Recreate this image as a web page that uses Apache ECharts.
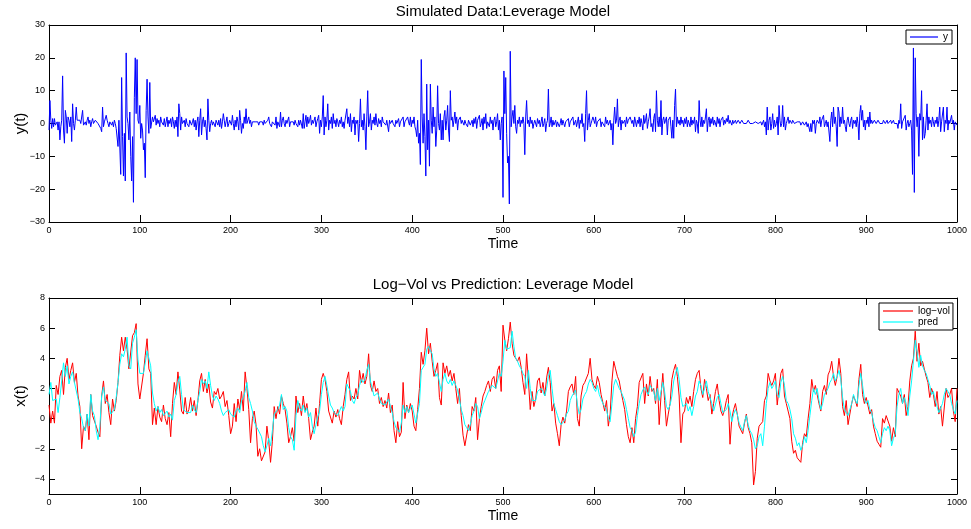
<!DOCTYPE html>
<html>
<head>
<meta charset="utf-8">
<title>Leverage Model</title>
<script src="https://cdn.jsdelivr.net/npm/echarts/dist/echarts.min.js"></script>
<style>
  html, body { margin: 0; padding: 0; background: #fff; }
  #chart { width: 971px; height: 529px; }
</style>
</head>
<body>
<div id="chart"></div>
<script>
// simulated returns y(t), t = 0..1000 (one value per time step)
const yObs = [
  -2, 7, 1, -1.5, 1.5, -1, 1.5, -0.5, -1, 0.5, -2, 0.5, -5, -1, 1, 14.5, -2, -6, 4, 2,
  -3, 2, 1, -1, 2, -5.5, 6, 0, -2, 1, 5, 1, 1.5, 0.5, 1, 0, 0.5, 4, -0.5, 0,
  0.5, -0.5, 1, 2, 0, 1, -1, 0.5, 1.5, 0, -0.5, 1, 0.5, 1.5, 0, -0.5, 0.5, -1.5, -2.5, 5,
  -1, 0.5, 1, 2.5, 1, 0, -1, 0.5, 1, -0.5, 0.5, -1, 1, 0, -1.5, -2, -7, 1, 1, -15.5,
  14, -4, -16, -3, -17.5, 21.5, 2, 0, -5, 3.5, -10, -17.5, -4, -24, 8, 20, 3, 19.5, 1, 0,
  5.5, -4.5, 0, -2, -8, -6, -16.5, 4, 13.5, 2, -3, 12.5, -1.5, -1, 2, 0.5, 1, 2.5, -0.5, 1.5,
  0, 1, -1, 2, 0.5, 1, -0.5, 1.5, -1, 0.5, 2, -1, 1, 0, 1.5, -1, 2, 0.5, -1.5, 1,
  -1, 2, -4, 6, 3, -2, 2, 0, -0.5, 1, -1, 1.5, 0, 0.5, -1, 1, 1, -0.5, 0.5, 1.5,
  -1, 1, -2, 0.5, 2, -4, 1, 4.5, -3.5, 0.5, 2, -1, 1, -1.5, -5, 7.5, 1, -2.5, 0, 1,
  -0.5, 0.5, 0, -1, 1, 0.5, -0.5, 1, -1, 1.5, -1.5, 0.5, 3, 1, -1, 0.5, 2, -1, 0, 1,
  1.5, -0.5, 2.5, 0, -2, 1, -1, 2, 0.5, -2, 4, 1, -3, 0, -1.5, 2, 0, 4.5, 0, 1,
  2, 0, 1, -1, 0.5, 0, 1, 0.5, 1, 0, 0.5, -0.5, 0.5, 1, 0, 0.5, -0.5, 1, 0, 0.5,
  -0.5, 1, 2, 0, 0.5, -1, 0.5, 0, 1, -0.5, 2, -1.5, 0.5, 1, -1, 3.5, -1, 1, 2, 0,
  -1, 1, 0, 0.5, 2, -1, 0.5, 1, 0, 0.5, -0.5, 1, 0, 0.5, -1, 1, -0.5, 1, 0.5, -1.5,
  3, -1.5, 0.5, 2.5, -1, 2, 0, 1, 2.5, -0.5, 1, 0, -0.5, 2, -1, 0.5, 1.5, 2.5, -3, 1,
  -1, 2, 8.5, -3.5, 2, -1, 1, 6, -2, 1, 0, 2, -1.5, 3, 0, 1, -1, 1.5, 0.5, -1,
  1, 0, 2, -1, 0.5, -1.5, 1, 0.5, 4.5, 0, 2, -1, 3, -2.5, 1, 0, 2, -3.5, 1, 0,
  1, -5.5, 0, 7.5, -1, 1, -2, 3, -1, -8, 2, 10, -1, 0.5, 3, -2, 1, 0, 2, -0.5,
  3, 0, -1, 1.5, 0, 1, -1, 2, 0.5, 0, 1, -0.5, 1, 0.5, -2.5, 1, 0, 0.5, 1, 0,
  0.5, -1, 1, 0, -0.5, 1.5, -1, 0.5, 0, 1, 2, -1, 0.5, 1, 0, 2, 0.5, -0.5, 2, -1,
  1, 0, 2, -1, -2, -4, 1, -6, -3, -12.5, 19.5, 2, -6, 3, -4, -16, 12, -8, 1, -13,
  12, 1, -3, 5, -1, 2, -7, -2, 11.5, 0, -2, 3, -5, 1, -5, 2, 4, -2, 1, 5.5,
  -2, -5.5, 10, 1, 2, -1, 1, 3.5, 0, 2, -2, 1, 0.5, 2, 0, 1, 0.5, -0.5, 1, 0,
  0.5, -1, 1, 0.5, -0.5, 0, 1, -1, 1.5, 0, 2, -1.5, 1, 0.5, 2.5, -1, 0, 1.5, -2, 2,
  0, 3, -1.5, 0.5, 1, -1, 2, 0, 1, -2, 1, 2, -1, 0.5, 3, -2, 1, -5, 0, 2,
  -22.5, 16, 3, 14, -3, -12, -10, -24.5, 22, -1, 2, 4, 0, 5.5, -1, -3, 1, 0, 2, -1,
  1, 0, 2, 0, -9.5, 2, 7, 0, 1, -1, 2, 0, 1, -1.5, 0, 1, 0.5, -1, 1.5, 0,
  1, -1, 0.5, 2, -1, 0, 1.5, -2.5, 0, 1, 10.5, -1, 0, 2, -1, 1, -0.5, 0, 1, -1,
  0.5, 1, -1, 0, 1.5, -0.5, 1, 0, -1, 0.5, 1, 0, 1.5, -1, 0.5, 0, 1, 2, -0.5, 0,
  1, -1, 0.5, 2, -1.5, 1, 0, 3, -1, 0, -5.5, 3, 10, -2, 1, 3, -1, 0, 1, 2,
  1, 0, 2, -1, 0.5, 1, 0, 1.5, -1, 0.5, 1, 0, -1, 2, 0, 1, -0.5, 0, 1, -2,
  0, -6.5, 1, 5, 0, 1, 7.5, -1, 1, 2, -2, 1, 0, 0.5, 1, -1, 2, 0, 1, 0.5,
  2, 1, 0, 1, -1, 2, 0.5, -1, 1, 0, 2, -1, 1.5, 0, -2, 2.5, 0, 1, 3, -1.5,
  0.5, 2, 4.5, -1, 0, -2.5, 1.5, 3, -2.5, 10, 1, -1, 2, -1, 7, -3.5, 1, 2, 0, 1,
  2, -3.5, 1, 0.5, 2, -1, -4.5, 1, -4.5, 5.5, 10.5, -1, 2, 0, 1, -0.5, 2, 0, 1, -1,
  1.5, 0, 2, -1, 1, 0.5, -1, 2, -0.5, 1, 0, 2, -2.5, 1, 0, -3, 7, 1, -1, 2,
  -1, 1, 0, 2, 4.5, -2.5, 1, 2, -1, 1.5, 0, 2, -0.5, 1, 0.5, -1, 2, 0, 1.5, -1,
  1, 0.5, 2, -0.5, 1, 0, 1.5, 0.5, 2.5, 0, 1, 0.5, -0.5, 1, 0, 0.5, 1, 0, 0.5, 1,
  0.5, 0, 0.5, 1, 0.5, 0, 0.5, 0.5, 0, 0.5, 1, 0.5, 0, 0.5, 0.5, 0, 0.5, 0, 0.5, 0,
  0.5, 0, 0.5, 0, 0.5, -0.5, 0, 1, -1, 0.5, -3.5, 5, -2, 1, 2, -2, 0, 3, -1.5, 1,
  -1, 0, 2, -3.5, 5.5, 1, -1, 0, 5.5, -1, 2, -2, 0, 1, 2, 0, 1, 0.5, 0, 1,
  0.5, 0, 0.5, 0, 0.5, 0.5, 0, 0.5, -0.5, 0, 0.5, 0, -0.5, 0, 0.5, -1, 0, 0.5, -2.5, 0,
  -2.5, 1, 0, 1, -3, 0, 1, 0.5, 0, 2, -1, 1, 0.5, 2.5, -1, 0, 1, -1, 0.5, 1,
  -5.5, 1, 3.5, -1, 5, 0, 2, -1, -7, 5, 3.5, -1, 2, 0, 5, 0, 1, -1, -2.5, 1,
  2, 0, -1, 1, 2, -1.5, 1, 0, 1, -1, 2, 0, -5, 3, 5.5, 1, 4, -1, 1, -2,
  1, 0, 2, -1, 3.5, 0, 1, 0, 0.5, 1, 0.5, 0, 0.5, 1, 0.5, 0, 0.5, 0.5, 0, 1,
  0.5, 0, 0.5, 1, 0, 0.5, 0.5, 1, 0, 0.5, 1, 0, 0.5, -0.5, 0, -1.5, 1, 0, 6, -1.5,
  0.5, 1, 0, 2.5, -2, 0, 1, -1, 0, 1, -2, -15.5, 23, -21, 20, 3, -1, 2, -10, 3,
  1, 10, -5, 2, -4.5, -3, 1, 6, -2, 2, 0, 1, -1, 2, 0.5, -1, 1, 0, 2, -1,
  1, 5, -2.5, 0.5, 1, 5, -2.5, 1, 0, 5, -2, 1, 0, 0.5, 2.5, 0, 1, -2, 0.5, 1,
  -0.5
];

// log-volatility and its prediction, sampled every 2 time steps (t = 0, 2, ..., 1000)
const logVol = [
  0.9, -0.3, 0.5, -0.3, 2.2, 1.6, 2.8, 3.2, 1.6, 3.4,
  4.0, 2.6, 3.2, 3.7, 2.4, 3.0, 1.5, 0.8, -2.0, -0.5,
  -0.8, 0.3, -1.4, 1.6, 0.2, 0.3, -0.5, -0.9, -1.2, 1.5,
  2.5, 1.0, 1.6, 0.4, -0.4, 1.3, 0.5, 1.2, 2.4, 4.2,
  5.4, 4.5, 5.4, 4.6, 3.3, 3.2, 5.5, 5.7, 6.3, 2.3,
  1.3, 1.2, 3.0, 4.2, 5.3, 3.3, 3.0, -0.4, 0.7, -0.4,
  0.8, 0.1, -0.2, 0.9, 0, -0.4, 0.4, -1.2, 1.0, 2.4,
  1.6, 3.1, 1.9, 0.5, 0.3, 1.4, 0.3, 0.6, 1.4, 0.5,
  1.2, 0.2, 1.2, 2.5, 3.0, 1.8, 2.6, 1.7, 2.3, 1.1,
  0.7, 1.8, 1.6, 2.0, 1.3, 1.5, 1.8, 0.8, 1.2, 0.2,
  -1.0, -0.5, 1.0, -0.2, 1.3, 0.6, 1.8, 0.5, 3.1, 2.0,
  0.6, -1.6, 0, 0.5, -0.4, -2.5, -2.0, -2.8, -2.9, -2.2,
  -0.5, -1.5, -2.9, -1.5, 0.8, 0, 0.8, 0.3, 1.5, 1.0,
  0.6, -0.3, -1.6, -1.2, -0.6, -1.5, 1.5, 0.4, 1.0, 0.2,
  1.5, 0.5, 1.0, 0, -1.4, -0.9, -0.5, 0.7, -0.5, 1.0,
  2.6, 3.0, 2.6, 1.8, 0.5, 0.5, -0.3, 0.5, 0.1, 0.6,
  0, -0.4, 0.8, 1.6, 2.6, 3.1, 1.2, 1.5, 1.3, 2.0,
  1.3, 3.2, 2.4, 3.0, 2.3, 2.8, 4.3, 2.2, 1.8, 2.5,
  1.8, 2.0, 1.0, 1.4, 0.8, 1.2, 0.7, 1.7, 0.4, 0.9,
  -0.8, -1.6, -0.2, -1.2, -0.9, 2.4, 0, 0.9, 0.4, 1.0,
  0.5, -0.5, -0.8, 0.6, 2.0, 4.4, 3.6, 4.5, 6.0, 4.3,
  5.0, 3.8, 2.8, 3.2, 3.7, 1.4, 0.9, 3.7, 3.0, 3.5,
  2.8, 3.2, 2.5, 3.0, 2.0, 1.0, 2.0, 0.2, -1.1, -1.8,
  -1.7, -0.4, -0.8, 0.8, 0.5, 1.4, -1.4, 0, 0.8, 1.5,
  1.8, 2.2, 2.5, 1.8, 2.6, 2.8, 2.0, 3.2, 3.5, 1.8,
  6.2, 5.2, 4.5, 5.3, 6.4, 5.0, 4.2, 4.0, 3.8, 4.1,
  3.4, 2.4, 1.6, 4.3, 2.5, 0.6, 1.8, 0.8, 1.3, 2.5,
  2.7, 1.7, 2.4, 1.5, 2.7, 3.4, 2.4, 0.5, 1.0, -0.3,
  -1.0, -1.8, -0.4, 0.1, -0.3, 0.5, 1.8, 2.1, 2.3, 1.6,
  2.8, 0, -0.5, 1.5, 2.2, 2.4, 2.5, 3.0, 4.0, 2.6,
  2.2, 2.0, 2.8, 2.4, 1.6, 1.5, 0.5, 1.2, -0.5, 0.3,
  2.5, 3.8, 3.3, 2.8, 2.5, 1.8, 1.2, 0.6, -0.4, -1.2,
  -1.6, -0.6, -1.6, 0, 0.8, 2.4, 2.5, 3.0, 1.0, 2.3,
  1.5, 2.8, 1.8, 2.0, 1.0, 2.6, -0.4, 1.5, 3.0, 1.2,
  -0.5, 0.3, 1.0, 2.6, 3.2, 3.6, 2.8, 1.5, -1.6, 0.3,
  0.5, 1.4, 1.0, 1.5, 0.8, 1.8, 2.6, 3.0, 3.2, 2.0,
  1.4, 2.6, 2.0, 1.2, 1.6, 0.3, 1.0, 1.8, 2.3, 1.2,
  0.5, 0.2, 0.6, 1.2, 1.6, -1.7, 0, 0.6, 1.0, 0.3,
  -0.5, -0.6, -1.0, -0.3, 0.3, -0.6, -1.0, -1.6, -4.4, -3.5,
  -1.3, -0.5, -0.4, -0.2, 1.2, 1.5, 3.0, 2.5, 2.2, 2.5,
  3.0, 0.9, 2.0, 3.0, 3.3, 1.5, 1.0, 0.5, 0.0, -1.5,
  -2.3, -2.1, -2.6, -2.5, -2.9, -1.6, -1.0, -1.2, 0.0, 1.0,
  2.6, 1.8, 2.2, 1.6, 1.0, 0.5, 1.8, 2.2, 1.6, 2.9,
  3.2, 3.8, 2.8, 2.2, 2.8, 4.0, 3.0, 0.8, 0.2, 1.2,
  -0.4, 0.3, 1.0, 1.5, 1.2, 0.8, 2.6, 3.6, 1.6, 1.0,
  1.4, 1.5, 0.3, 0.6, -0.5, -1.0, -1.5, -1.7, -1.9, 0.0,
  -0.3, 0.2, 0.1, -0.5, -1.5, -0.6, -1.2, 2.0, 2.1, 1.5,
  1.0, 1.6, 0.2, 0.8, 2.5, 3.5, 4.0, 5.8, 3.8, 5.0,
  3.5, 3.8, 3.3, 2.8, 2.4, 1.4, 2.0, 1.6, 0.8, 1.8,
  0.3, 0.8, -0.5, -0.6, 2.0, 1.4, 1.6, 2.0, 0.5, -0.2,
  2.0
];

const pred = [
  1.6, 2.4, 1.2, 1.1, 1.3, 0.4, 1.4, 2.5, 3.7, 2.8,
  3.5, 2.3, 2.8, 3.1, 2.4, 2.5, 1.3, 0.4, 0, -0.6,
  -0.8, 0.3, -0.5, 1.6, 0.5, 0.2, -0.8, -1.4, -0.5, 1.5,
  2.1, 1.2, 1.3, 1.0, 0.3, 0.2, 0.6, 1.4, 2.4, 3.6,
  4.3, 4.1, 4.6, 5.4, 3.5, 3.3, 5.0, 5.4, 5.9, 3.9,
  3.0, 3.1, 3.0, 3.7, 4.5, 4.6, 3.5, 1.7, 1.0, 0.5,
  0.8, 0.4, 0.6, 0.2, 0.3, 0.5, 0.1, 0.3, -0.1, 1.2,
  1.6, 2.4, 2.8, 1.6, 0.6, 0.5, 0.4, 0.5, 0.4, 0.9,
  0.6, 0.4, 1.2, 1.8, 2.6, 2.3, 2.5, 2.0, 3.1, 2.2,
  1.5, 1.2, 1.5, 1.3, 1.0, 0.5, 0.2, 0.4, 0.5, 0.6,
  0.3, 0.4, 0.1, 0.5, 0.7, 0.4, 1.2, 1.4, 1.8, 2.4,
  1.4, 1.0, 0.5, -0.2, -0.5, -0.7, -0.8, -1.2, -1.8, -2.2,
  -1.8, -1.3, -1.8, -0.8, 0.3, 0.2, 0.6, 0.9, 1.6, 0.6,
  0.8, 0.5, -0.6, -1.2, -1.4, -2.1, 0.2, 1.2, 0.7, 0.5,
  0.9, 0.4, 0.7, 0.1, 0.4, -0.5, -1.0, -0.4, 0.1, 0.5,
  1.6, 2.4, 2.8, 2.2, 1.5, 0.9, 0.7, 0.4, 0.3, 0.2,
  0.5, 0.8, 0.5, 0.8, 2.3, 2.2, 1.8, 1.2, 1.0, 1.4,
  1.6, 2.2, 2.6, 2.4, 2.6, 3.2, 3.6, 2.5, 2.0, 1.5,
  1.6, 1.7, 1.3, 1.0, 1.1, 0.9, 0.8, 1.3, 0.8, 0.4,
  -0.2, -0.6, -0.6, -0.9, -0.3, 0.9, 0.4, 0.8, 0.4, 0.7,
  0.9, 0.3, -0.3, -0.2, 1.0, 3.2, 3.4, 3.6, 4.6, 4.8,
  4.5, 4.3, 3.3, 2.8, 3.0, 2.4, 1.8, 2.6, 3.0, 2.5,
  2.3, 2.6, 2.2, 2.5, 2.2, 1.9, 1.3, 0.6, 0.2, -0.4,
  -0.6, -0.8, -0.4, 0.2, 0.5, 1.0, 0.8, 0, 0.4, 0.9,
  1.2, 1.5, 1.8, 1.9, 2.2, 2.3, 2.0, 2.5, 3.0, 2.8,
  3.8, 5.2, 4.6, 4.5, 4.7, 5.8, 4.8, 4.0, 3.8, 3.5,
  3.3, 3.0, 2.8, 2.0, 3.2, 2.0, 1.2, 1.3, 1.2, 1.8,
  1.8, 2.0, 1.8, 1.5, 2.0, 2.8, 3.2, 2.0, 1.0, 0.6,
  0.2, -0.2, -0.4, -0.3, -0.1, 0.3, 0.5, 1.2, 1.5, 1.6,
  1.9, 0.9, 0.3, 0.6, 1.3, 1.6, 1.8, 2.3, 2.6, 2.4,
  2.0, 1.8, 2.2, 1.6, 1.6, 1.0, 0.8, 0.6, 0.0, -0.2,
  1.0, 2.2, 2.6, 2.6, 2.0, 1.8, 1.5, 1.2, 0.6, 0.0,
  -0.6, -0.8, -1.2, -0.9, 0.2, 1.0, 1.6, 1.9, 2.1, 1.8,
  1.6, 2.2, 2.0, 1.8, 1.2, 2.0, 1.2, 1.8, 2.4, 1.8,
  0.8, 0.6, 0.9, 1.5, 2.5, 3.0, 3.4, 2.6, 1.4, 0.8,
  0.8, 1.0, 0.5, 0.8, 0.2, 0.8, 1.5, 1.8, 2.5, 2.2,
  1.6, 2.0, 2.5, 1.8, 1.4, 1.0, 0.5, 0.4, 1.4, 1.6,
  1.0, 0.4, 0.4, 0.6, 1.0, 0.5, -0.2, 0.3, 0.6, 0.3,
  -0.3, -0.2, -0.8, -0.2, 0.2, -0.4, -0.8, -1.0, -1.4, -2.0,
  -1.8, -1.2, -1.0, -1.8, -0.5, 1.0, 2.0, 2.4, 2.0, 2.2,
  2.5, 1.6, 1.4, 2.4, 2.8, 2.2, 1.2, 1.0, 0.6, 0.0,
  -1.0, -1.3, -1.8, -1.6, -2.1, -1.8, -1.2, -1.6, -0.8, 0.2,
  1.2, 2.0, 1.6, 2.0, 1.2, 0.6, 1.0, 1.6, 1.8, 2.0,
  2.4, 2.6, 3.0, 2.5, 2.8, 3.2, 2.6, 1.4, 0.6, 0.7,
  0.2, 0.1, 1.0, 1.6, 1.2, 1.0, 2.2, 3.0, 2.2, 1.3,
  1.0, 1.2, 0.6, 0.4, -0.2, -0.6, -0.8, -1.2, -1.6, -1.0,
  -0.6, -0.8, -0.5, -0.8, -1.8, -1.3, -1.0, 0.8, 1.6, 2.0,
  1.0, 1.4, 1.0, 0.2, 1.5, 2.5, 3.8, 5.2, 4.4, 3.4,
  4.2, 3.5, 3.2, 3.0, 2.6, 2.2, 1.6, 1.8, 1.2, 0.8,
  0.4, 0.3, 1.0, 1.6, 2.0, 1.8, 1.6, 1.0, 0.6, 0.3,
  1.2
];

const xTicks = [0, 100, 200, 300, 400, 500, 600, 700, 800, 900, 1000];
const yTicksTop = [-30, -20, -10, 0, 10, 20, 30];
const yTicksBottom = [-4, -2, 0, 2, 4, 6, 8];

const FONT = 'Liberation Sans, Arial, Helvetica, sans-serif';

const chart = echarts.init(document.getElementById('chart'), null, { renderer: 'canvas' });

// matlab style: plain integers and a real minus sign
const tickFmt = (v) => (v < 0 ? '\u2212' + String(-v) : String(v));

const boxLine = { show: true, onZero: false, lineStyle: { color: '#000', width: 1 } };
const tickStyle = (len, vals) => ({
  show: true, inside: true, length: len,
  customValues: vals,
  lineStyle: { color: '#000', width: 1 }
});
const labelStyle = (vals) => ({
  customValues: vals, formatter: tickFmt,
  color: '#000', fontSize: 9, fontFamily: FONT, margin: 4
});

function xAxisPair(grid) {
  return [
    {
      type: 'value', gridIndex: grid, position: 'bottom', min: 0, max: 1000,
      axisLine: boxLine, axisTick: tickStyle(7, xTicks), axisLabel: labelStyle(xTicks),
      splitLine: { show: false },
      name: 'Time', nameLocation: 'middle', nameGap: 15,
      nameTextStyle: { color: '#000', fontSize: 14, fontFamily: FONT }
    },
    {
      type: 'value', gridIndex: grid, position: 'top', min: 0, max: 1000,
      axisLine: boxLine, axisTick: tickStyle(7, xTicks), axisLabel: { show: false },
      splitLine: { show: false }
    }
  ];
}

function yAxisPair(grid, min, max, ticks, name) {
  return [
    {
      type: 'value', gridIndex: grid, position: 'left', min: min, max: max,
      axisLine: boxLine, axisTick: tickStyle(6, ticks), axisLabel: labelStyle(ticks),
      splitLine: { show: false },
      name: name, nameLocation: 'middle', nameGap: 21, nameRotate: 90,
      nameMoveOverlap: false,
      nameTextStyle: { color: '#000', fontSize: 15, fontFamily: FONT }
    },
    {
      type: 'value', gridIndex: grid, position: 'right', min: min, max: max,
      axisLine: boxLine, axisTick: tickStyle(6, ticks), axisLabel: { show: false },
      splitLine: { show: false }
    }
  ];
}

const legendBase = {
  orient: 'vertical', icon: 'rect', itemHeight: 1.2,
  borderColor: '#000', borderWidth: 1, backgroundColor: '#fff', borderRadius: 0,
  textStyle: { color: '#000', fontSize: 10, fontFamily: FONT }
};

const option = {
  animation: false,
  backgroundColor: '#fff',
  title: [
    {
      text: 'Simulated Data:Leverage Model', left: 503, top: 4, padding: 0,
      textAlign: 'center',
      textStyle: { color: '#000', fontSize: 15, fontWeight: 'normal', fontFamily: FONT }
    },
    {
      text: 'Log\u2212Vol vs Prediction: Leverage Model', left: 503, top: 277, padding: 0,
      textAlign: 'center',
      textStyle: { color: '#000', fontSize: 15, fontWeight: 'normal', fontFamily: FONT }
    }
  ],
  legend: [
    Object.assign({}, legendBase, {
      data: ['y'], left: 906, top: 30,
      itemWidth: 28, itemGap: 0, padding: [2, 4, 2, 4]
    }),
    Object.assign({}, legendBase, {
      data: ['log\u2212vol', 'pred'], left: 879, top: 303,
      itemWidth: 30, itemGap: 1, padding: [3, 3, 3, 4]
    })
  ],
  grid: [
    { left: 49, top: 25, width: 908, height: 197, containLabel: false, outerBoundsMode: 'none' },
    { left: 49, top: 298, width: 908, height: 196, containLabel: false, outerBoundsMode: 'none' }
  ],
  xAxis: [...xAxisPair(0), ...xAxisPair(1)],
  yAxis: [
    ...yAxisPair(0, -30, 30, yTicksTop, 'y(t)'),
    ...yAxisPair(1, -5, 8, yTicksBottom, 'x(t)')
  ],
  series: [
    {
      name: 'y', type: 'line', xAxisIndex: 0, yAxisIndex: 0,
      data: yObs.map((v, i) => [i, v]),
      symbol: 'none', clip: true,
      lineStyle: { color: '#0000ff', width: 1 }, itemStyle: { color: '#0000ff' }
    },
    {
      name: 'log\u2212vol', type: 'line', xAxisIndex: 2, yAxisIndex: 2,
      data: logVol.map((v, i) => [i * 2, v]),
      symbol: 'none', clip: true,
      lineStyle: { color: '#ff0000', width: 1 }, itemStyle: { color: '#ff0000' }
    },
    {
      name: 'pred', type: 'line', xAxisIndex: 2, yAxisIndex: 2,
      data: pred.map((v, i) => [i * 2, v]),
      symbol: 'none', clip: true,
      lineStyle: { color: '#00ffff', width: 1 }, itemStyle: { color: '#00ffff' }
    }
  ]
};

chart.setOption(option);
window.addEventListener('resize', () => chart.resize());
</script>
</body>
</html>
